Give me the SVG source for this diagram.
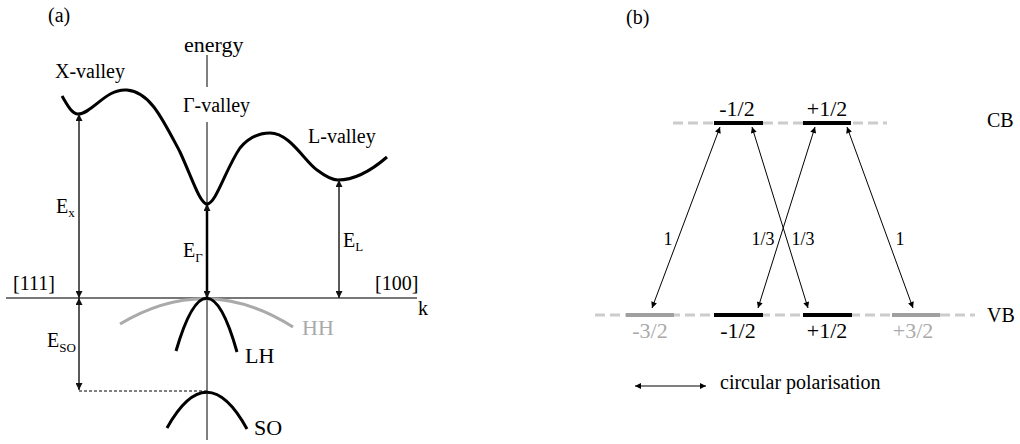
<svg xmlns="http://www.w3.org/2000/svg" width="1020" height="444" viewBox="0 0 1020 444" font-family="Liberation Serif, Times New Roman, serif" font-size="20">
<style>
.m{text-anchor:middle}
.g{fill:#aaa}
.sub{font-size:13px}
.ax{stroke:#000;stroke-width:1;fill:none}
.arr{stroke:#222;stroke-width:1.5;fill:none}
.band{stroke:#000;stroke-width:3;fill:none}
.tr{stroke:#000;stroke-width:1;fill:none}
.lvl{stroke:#ccc;stroke-width:3;stroke-dasharray:10,5}
</style>
<defs>
<marker id="ha" viewBox="0 0 10 10" refX="10" refY="5" markerWidth="9" markerHeight="7" markerUnits="userSpaceOnUse" orient="auto-start-reverse"><path d="M0,0L10,5L0,10z" fill="#111"/></marker>
<marker id="hb" viewBox="0 0 10 10" refX="10" refY="5" markerWidth="9" markerHeight="6" markerUnits="userSpaceOnUse" orient="auto-start-reverse"><path d="M0,0L10,5L0,10z" fill="#000"/></marker>
</defs>

<g id="panel-a">
<text x="48" y="22">(a)</text>
<g id="energy-axis">
<line class="ax" x1="207" y1="55" x2="207" y2="87"/>
<line class="ax" x1="207" y1="122" x2="207" y2="440"/>
<text x="184" y="52" font-size="22">energy</text>
</g>
<g id="k-axis">
<line x1="6" y1="298" x2="417" y2="298" stroke="#777" stroke-width="2"/>
<text x="13" y="290">[111]</text>
<text x="375" y="290">[100]</text>
<text x="418" y="315">k</text>
</g>
<g id="conduction-band">
<path class="band" d="M62,96 C68,106 72,114 78,114 C92,114 106,88 127,90 C150,92 162,118 180,152 C192,178 200,204 207,204 C216,204 226,168 240,148 C250,136 260,133 270,133 C290,133 305,162 317,170 C325,176 332,180 338,180 C355,180 372,170 387,157"/>
<text x="55" y="78">X-valley</text>
<text x="183" y="112">Γ-valley</text>
<text x="308" y="143">L-valley</text>
</g>
<g id="hh">
<path d="M120,324 Q207,272 293,327" stroke="#aaa" stroke-width="3" fill="none"/>
<text class="g" x="302" y="335" font-size="22">HH</text>
</g>
<g id="lh">
<path class="band" d="M176,351 Q207,245 237,352"/>
<text x="245" y="363" font-size="22">LH</text>
</g>
<g id="so">
<path class="band" d="M167,428 Q207,356 247,429"/>
<text x="254" y="435" font-size="22">SO</text>
</g>
<g id="connectors-a">
<line class="arr" x1="79" y1="114" x2="79" y2="298" marker-start="url(#ha)" marker-end="url(#ha)"/>
<line x1="207" y1="204" x2="207" y2="298" stroke="#000" stroke-width="2.5" marker-start="url(#ha)" marker-end="url(#ha)"/>
<line class="arr" x1="339" y1="180" x2="339" y2="298" marker-start="url(#ha)" marker-end="url(#ha)"/>
<line class="arr" x1="79" y1="298" x2="79" y2="390" marker-start="url(#ha)" marker-end="url(#ha)"/>
<line x1="79" y1="391" x2="207" y2="391" stroke="#000" stroke-width="1" stroke-dasharray="3,2"/>
</g>
<text x="56" y="213">E<tspan class="sub" dy="4">x</tspan></text>
<text x="183" y="257">E<tspan class="sub" dy="5">Γ</tspan></text>
<text x="343" y="247">E<tspan class="sub" dy="4">L</tspan></text>
<text x="47" y="347">E<tspan class="sub" dy="5">SO</tspan></text>
</g>

<g id="panel-b">
<text x="626" y="24">(b)</text>
<g id="cb">
<line class="lvl" x1="673" y1="123" x2="887" y2="123"/>
<line x1="714" y1="123" x2="763" y2="123" stroke="#000" stroke-width="4"/>
<line x1="803" y1="123" x2="851" y2="123" stroke="#000" stroke-width="4"/>
<text class="m" x="737" y="116" font-size="22">-1/2</text>
<text class="m" x="827" y="116" font-size="22">+1/2</text>
<text x="987" y="127">CB</text>
</g>
<g id="vb">
<line class="lvl" x1="595" y1="315" x2="975" y2="315"/>
<line x1="626" y1="315" x2="674" y2="315" stroke="#a0a0a0" stroke-width="4"/>
<line x1="714" y1="315" x2="763" y2="315" stroke="#000" stroke-width="4"/>
<line x1="803" y1="315" x2="852" y2="315" stroke="#000" stroke-width="4"/>
<line x1="892" y1="315" x2="940" y2="315" stroke="#a0a0a0" stroke-width="4"/>
<text class="m g" x="650" y="338" font-size="22">-3/2</text>
<text class="m" x="738" y="338" font-size="22">-1/2</text>
<text class="m" x="827" y="338" font-size="22">+1/2</text>
<text class="m g" x="913" y="338" font-size="22">+3/2</text>
<text x="987" y="322">VB</text>
</g>
<g id="connectors-b">
<line class="tr" x1="720" y1="127" x2="652" y2="308" marker-start="url(#hb)" marker-end="url(#hb)"/>
<line class="tr" x1="815" y1="127" x2="758" y2="308" marker-start="url(#hb)" marker-end="url(#hb)"/>
<line class="tr" x1="752" y1="127" x2="808" y2="308" marker-start="url(#hb)" marker-end="url(#hb)"/>
<line class="tr" x1="847" y1="127" x2="913" y2="308" marker-start="url(#hb)" marker-end="url(#hb)"/>
<text class="m" x="668" y="245" font-size="18">1</text>
<text class="m" x="763" y="245" font-size="18">1/3</text>
<text class="m" x="803" y="245" font-size="18">1/3</text>
<text class="m" x="900" y="245" font-size="18">1</text>
</g>
<g id="legend">
<line class="tr" x1="635" y1="386" x2="706" y2="386" marker-start="url(#hb)" marker-end="url(#hb)"/>
<text x="720" y="389">circular polarisation</text>
</g>
</g>
</svg>
